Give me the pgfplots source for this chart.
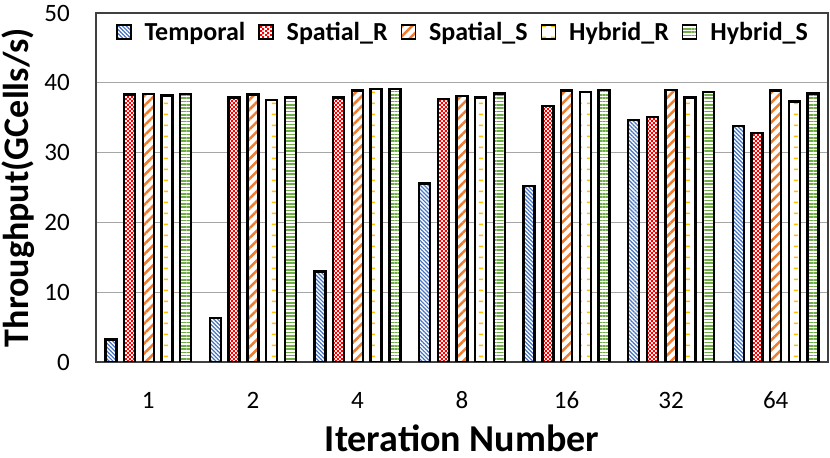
\documentclass[border=0pt]{standalone}
\usepackage{fontspec}
\setmainfont{Carlito}
\usepackage{pgfplots}
\pgfplotsset{compat=1.18}
\usetikzlibrary{patterns,patterns.meta}
\definecolor{cTemp}{HTML}{4472C4}
\definecolor{cSR}{HTML}{FF0000}
\definecolor{cSS}{HTML}{ED7D31}
\definecolor{cHR}{HTML}{FFC000}
\definecolor{cHS}{HTML}{70AD47}
\definecolor{frame}{HTML}{404040}
\definecolor{gridc}{HTML}{A6A6A6}
\pgfdeclarepatternformonly{checker}{\pgfqpoint{0bp}{0bp}}{\pgfqpoint{4.4bp}{4.4bp}}{\pgfqpoint{4.4bp}{4.4bp}}{%
  \pgfpathrectangle{\pgfqpoint{0bp}{0bp}}{\pgfqpoint{2.2bp}{2.2bp}}%
  \pgfpathrectangle{\pgfqpoint{2.2bp}{2.2bp}}{\pgfqpoint{2.2bp}{2.2bp}}%
  \pgfusepath{fill}}
\pgfdeclarepatternformonly{dashes}{\pgfqpoint{0bp}{0bp}}{\pgfqpoint{9bp}{11bp}}{\pgfqpoint{9bp}{11bp}}{%
  \pgfpathrectangle{\pgfqpoint{2bp}{2bp}}{\pgfqpoint{4.5bp}{1.6bp}}%
  \pgfusepath{fill}}
\begin{document}
\begin{tikzpicture}
\begin{axis}[
  scale only axis,
  width=732bp, height=349bp,
  ybar=7.7bp, bar width=11bp,
  xmin=0.5, xmax=7.5, ymin=0, ymax=50,
  xtick={1,...,7}, xticklabels={1,2,4,8,16,32,64},
  ytick={0,10,...,50},
  major tick length=0pt,
  ymajorgrids, grid style={gridc, line width=1.2bp},
  axis line style={frame, line width=1.2bp},
  tick label style={font=\fontsize{25bp}{25bp}\selectfont, inner sep=0pt},
  /pgf/number format/assume math mode=true,
  yticklabel style={anchor=east, xshift=-26bp},
  xticklabel style={anchor=base, yshift=-47bp},
  xlabel={\bfseries Iteration Number},
  ylabel={\bfseries Throughput(GCells/s)},
  xlabel style={font=\fontsize{38bp}{38bp}\selectfont, inner sep=0pt, at={(axis description cs:0.5,-0.257)}, anchor=base},
  ylabel style={font=\fontsize{36bp}{36bp}\selectfont, inner sep=0pt, at={(axis description cs:-0.084,0.5)}, anchor=south},
  every axis plot/.append style={draw=black, line width=2.5bp},
  legend columns=5,
  legend style={at={(0.5,1)}, anchor=north, yshift=-9bp, draw=none, fill=none, inner sep=0pt,
    nodes={inner sep=0pt},
    font=\bfseries\fontsize{26bp}{26bp}\selectfont,
    column sep=13bp},
  legend image code/.code={\draw[#1, line width=1.5bp] (0bp,-7bp) rectangle (14bp,7bp);},
]
\coordinate (sw) at (rel axis cs:0,0);
\coordinate (ne) at (rel axis cs:1,1);
\addplot[fill=white, postaction={pattern={Lines[angle=-45,distance=2.8bp,line width=1.2bp]}, pattern color=cTemp}]
  coordinates {(1,3.2) (2,6.3) (3,13.0) (4,25.6) (5,25.2) (6,34.7) (7,33.8)};
\addplot[fill=white, postaction={pattern=checker, pattern color=cSR}]
  coordinates {(1,38.3) (2,37.9) (3,37.9) (4,37.7) (5,36.7) (6,35.1) (7,32.8)};
\addplot[fill=white, postaction={pattern={Lines[angle=45,distance=7bp,line width=2.5bp]}, pattern color=cSS}]
  coordinates {(1,38.4) (2,38.3) (3,38.9) (4,38.1) (5,38.9) (6,39.0) (7,38.9)};
\addplot[fill=white, postaction={pattern=dashes, pattern color=cHR}]
  coordinates {(1,38.2) (2,37.5) (3,39.1) (4,37.9) (5,38.7) (6,37.9) (7,37.3)};
\addplot[fill=white, postaction={pattern={Lines[angle=0,distance=3.3bp,line width=1.6bp]}, pattern color=cHS}]
  coordinates {(1,38.4) (2,37.9) (3,39.1) (4,38.5) (5,39.0) (6,38.7) (7,38.5)};
\legend{Temporal,Spatial\_R,Spatial\_S,Hybrid\_R,Hybrid\_S}
\end{axis}
\pgfresetboundingbox
\path ([shift={(-96bp,-96bp)}]sw) rectangle ([shift={(2bp,13bp)}]ne);
\end{tikzpicture}
\end{document}
